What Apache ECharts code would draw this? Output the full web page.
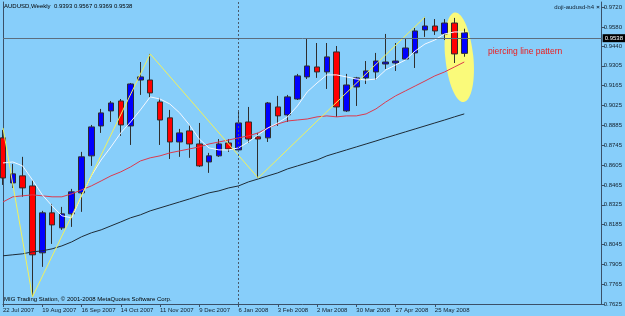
<!DOCTYPE html>
<html><head><meta charset="utf-8">
<script src="https://cdn.jsdelivr.net/npm/echarts@6/dist/echarts.min.js"></script>
<style>html,body{margin:0;padding:0;background:#87cefa}#c{width:625px;height:316px}</style>
</head><body><div id="c"></div>
<script>
const categories = ['22 Jul 2007','29 Jul 2007','5 Aug 2007','12 Aug 2007','19 Aug 2007','26 Aug 2007','2 Sep 2007','9 Sep 2007','16 Sep 2007','23 Sep 2007','30 Sep 2007','7 Oct 2007','14 Oct 2007','21 Oct 2007','28 Oct 2007','4 Nov 2007','11 Nov 2007','18 Nov 2007','25 Nov 2007','2 Dec 2007','9 Dec 2007','16 Dec 2007','23 Dec 2007','30 Dec 2007','6 Jan 2008','13 Jan 2008','20 Jan 2008','27 Jan 2008','3 Feb 2008','10 Feb 2008','17 Feb 2008','24 Feb 2008','2 Mar 2008','9 Mar 2008','16 Mar 2008','23 Mar 2008','30 Mar 2008','6 Apr 2008','13 Apr 2008','20 Apr 2008','27 Apr 2008','4 May 2008','11 May 2008','18 May 2008','25 May 2008','1 Jun 2008','8 Jun 2008','15 Jun 2008'];
const opens  = [0.8797,0.8479,0.8529,0.8458,0.7986,0.8268,0.8162,0.8261,0.8409,0.8670,0.8881,0.8987,0.9057,0.8881,0.9205,0.9205,0.9050,0.8938,0.8768,0.8846,0.8754,0.8627,0.8670,0.8761,0.8712,0.8909,0.8804,0.8797,0.9015,0.8959,0.9071,0.9227,0.9297,0.9262,0.9403,0.8987,0.9156,0.9220,0.9262,0.9318,0.9325,0.9353,0.9396,0.9558,0.9586,0.9530,0.9607,0.9393];
const closes = [0.8514,0.8543,0.8444,0.7972,0.8268,0.8183,0.8261,0.8416,0.8663,0.8874,0.8973,0.9043,0.8888,0.9177,0.9227,0.9114,0.8923,0.8768,0.8832,0.8754,0.8599,0.8670,0.8754,0.8719,0.8902,0.8789,0.8789,0.9043,0.8952,0.9086,0.9234,0.9304,0.9262,0.9368,0.9015,0.9170,0.9220,0.9269,0.9339,0.9332,0.9339,0.9431,0.9551,0.9586,0.9551,0.9607,0.9389,0.9538];
const lows   = [0.8465,0.8444,0.8381,0.7676,0.7887,0.8049,0.8148,0.8169,0.8275,0.8599,0.8832,0.8909,0.8811,0.8747,0.9100,0.9079,0.8747,0.8648,0.8663,0.8656,0.8592,0.8550,0.8663,0.8698,0.8698,0.8761,0.8514,0.8768,0.8881,0.8909,0.9064,0.9212,0.9220,0.9142,0.8945,0.8980,0.9022,0.9177,0.9205,0.9283,0.9269,0.9346,0.9290,0.9509,0.9523,0.9487,0.9325,0.9369];
const highs  = [0.8853,0.8613,0.8663,0.8500,0.8282,0.8331,0.8310,0.8437,0.8698,0.8888,0.9001,0.9057,0.9071,0.9184,0.9332,0.9389,0.9079,0.8994,0.8860,0.8888,0.8902,0.8691,0.8789,0.8789,0.8980,0.9015,0.8832,0.9050,0.9093,0.9100,0.9248,0.9494,0.9466,0.9466,0.9445,0.9248,0.9227,0.9339,0.9396,0.9530,0.9466,0.9501,0.9572,0.9650,0.9635,0.9635,0.9643,0.9567];
const maFast = [0.8620,0.8627,0.8599,0.8500,0.8395,0.8317,0.8247,0.8233,0.8388,0.8529,0.8641,0.8733,0.8832,0.8909,0.8994,0.9086,0.9071,0.9036,0.8973,0.8888,0.8789,0.8726,0.8712,0.8712,0.8726,0.8768,0.8818,0.8867,0.8902,0.8945,0.9022,0.9121,0.9184,0.9241,0.9241,0.9227,0.9212,0.9205,0.9212,0.9276,0.9311,0.9346,0.9410,0.9459,0.9487,0.9530,0.9544,0.9544];
const maMid  = [0.8345,0.8381,0.8388,0.8395,0.8388,0.8381,0.8381,0.8402,0.8430,0.8458,0.8493,0.8529,0.8557,0.8592,0.8634,0.8656,0.8670,0.8691,0.8705,0.8719,0.8733,0.8754,0.8768,0.8782,0.8797,0.8811,0.8832,0.8867,0.8895,0.8916,0.8923,0.8930,0.8945,0.8952,0.8945,0.8952,0.8952,0.8966,0.9001,0.9050,0.9093,0.9128,0.9163,0.9198,0.9234,0.9262,0.9297,0.9332];
const maSlow = [0.7965,0.7972,0.7979,0.7993,0.8000,0.8014,0.8035,0.8063,0.8099,0.8127,0.8148,0.8176,0.8204,0.8233,0.8254,0.8282,0.8303,0.8324,0.8345,0.8366,0.8388,0.8409,0.8423,0.8444,0.8458,0.8486,0.8507,0.8529,0.8550,0.8578,0.8599,0.8620,0.8641,0.8670,0.8691,0.8712,0.8733,0.8754,0.8775,0.8797,0.8818,0.8839,0.8860,0.8881,0.8902,0.8923,0.8945,0.8966];
const zigzag = [0.8867,null,null,0.7676,null,null,null,null,null,null,null,null,null,null,null,0.9389,null,null,null,null,null,null,null,null,null,null,0.8514,null,null,null,null,null,null,null,null,null,null,null,null,null,null,null,null,0.9650,null,null,null,null];
const yTicks = [0.9720,0.9580,0.9440,0.9305,0.9165,0.9025,0.8885,0.8745,0.8605,0.8465,0.8325,0.8185,0.8045,0.7905,0.7765,0.7625];
const bidPrice = 0.9538;
const separatorDate = '6 Jan 2008';
const emptySlots = 14;
const titleText = 'AUDUSD,Weekly  0.9393 0.9567 0.9369 0.9538';
const copyrightText = 'MIG Trading Station, © 2001-2008 MetaQuotes Software Corp.';
const indicatorText = 'doji-audusd-h4';
const noteText = 'piercing line pattern';
// annotation ellipse extent (price) and bars it spans
const ellipseTop = 0.9683, ellipseBottom = 0.9048, ellipseBars = [46, 47];

const FONT = 'Liberation Sans';
const frame = '#3a5068';
const xCats = categories.concat(Array(emptySlots).fill(''));
const candles = opens.map((o, i) => [o, closes[i], lows[i], highs[i]]);
const showIdx = (idx, val) => val !== '' && idx % 4 === 0;

const chart = echarts.init(document.getElementById('c'), null, {renderer: 'canvas'});
chart.setOption({
  animation: false,
  backgroundColor: '#87cefa',
  grid: {left: 2, right: 23, top: 2, bottom: 12},
  xAxis: {
    type: 'category', data: xCats, boundaryGap: false,
    axisLine: {show: true, lineStyle: {color: frame, width: 1}},
    axisTick: {show: true, length: 3, interval: showIdx, lineStyle: {color: frame}},
    axisLabel: {interval: showIdx, align: 'left', margin: 3, fontSize: 6, color: '#14202c', fontFamily: FONT},
    splitLine: {show: false}
  },
  yAxis: [{
    type: 'value', position: 'right', min: 0.7625, max: 0.97553,
    axisLine: {show: true, lineStyle: {color: frame, width: 1}},
    axisTick: {show: true, length: 3, customValues: yTicks, lineStyle: {color: frame}},
    axisLabel: {customValues: yTicks, formatter: v => v.toFixed(4), fontSize: 6, margin: 2, color: '#14202c', fontFamily: FONT},
    splitLine: {show: false}
  }, {
    type: 'value', position: 'left', min: 0.7625, max: 0.97553,
    axisLine: {show: true, lineStyle: {color: frame, width: 1}},
    axisTick: {show: false}, axisLabel: {show: false}, splitLine: {show: false}
  }],
  series: [
    {
      type: 'candlestick', data: candles, barWidth: 6, yAxisIndex: 0,
      itemStyle: {color: '#0000ff', color0: '#ff0000', borderColor: '#2e2e2e', borderColor0: '#2e2e2e', borderWidth: 1},
      markLine: {
        symbol: 'none', silent: true, animation: false,
        data: [
          {yAxis: bidPrice, lineStyle: {color: '#5c6e7e', width: 1, type: 'solid'},
           label: {show: true, position: 'end', formatter: bidPrice.toFixed(4), backgroundColor: '#000', color: '#fff',
                   fontSize: 6, fontFamily: FONT, padding: [1, 2, 1, 2], distance: 1}},
          {xAxis: separatorDate, lineStyle: {color: '#4a5a6a', width: 1, type: [2, 2]}, label: {show: false}}
        ]
      }
    },
    {type: 'line', data: maSlow, showSymbol: false, lineStyle: {color: '#1e2b36', width: 1}},
    {type: 'line', data: maMid, showSymbol: false, lineStyle: {color: '#dc3a4e', width: 1}},
    {type: 'line', data: maFast, showSymbol: false, lineStyle: {color: '#f4f8ff', width: 1}},
    {type: 'line', data: zigzag, connectNulls: true, showSymbol: false, lineStyle: {color: '#f2f25a', width: 1}}
  ]
});

const pA = chart.convertToPixel({xAxisIndex: 0, yAxisIndex: 0}, [ellipseBars[0], ellipseTop]);
const pB = chart.convertToPixel({xAxisIndex: 0, yAxisIndex: 0}, [ellipseBars[1], ellipseBottom]);
const cx = (pA[0] + pB[0]) / 2, cy = (pA[1] + pB[1]) / 2;
const ry = (pB[1] - pA[1]) / 2;
const bidY = chart.convertToPixel({yAxisIndex: 0}, bidPrice);

chart.setOption({
  graphic: [
    {type: 'ellipse', x: cx, y: cy, rotation: 0.1, z: 0, silent: true,
     shape: {cx: 0, cy: 0, rx: 14, ry: ry}, style: {fill: '#fafa7a'}},
    {type: 'text', x: 4, y: 6, z: 10, style: {text: titleText, fill: '#000', font: '6px ' + FONT, textVerticalAlign: 'middle'}},
    {type: 'text', x: 594, y: 7, z: 10, style: {text: indicatorText, fill: '#102030', font: '6px ' + FONT, textAlign: 'right', textVerticalAlign: 'middle'}},
    {type: 'text', x: 598, y: 7, z: 10, style: {text: '×', fill: '#102030', font: 'bold 6px ' + FONT, textAlign: 'center', textVerticalAlign: 'middle'}},
    {type: 'text', x: 4, y: 299.5, z: 10, style: {text: copyrightText, fill: '#000', font: '6px ' + FONT, textVerticalAlign: 'middle'}},
    {type: 'text', x: 488, y: bidY + 19, z: 10, style: {text: noteText, fill: '#ee1a1a', font: '8.5px ' + FONT, textVerticalAlign: 'middle'}}
  ]
});
</script></body></html>
